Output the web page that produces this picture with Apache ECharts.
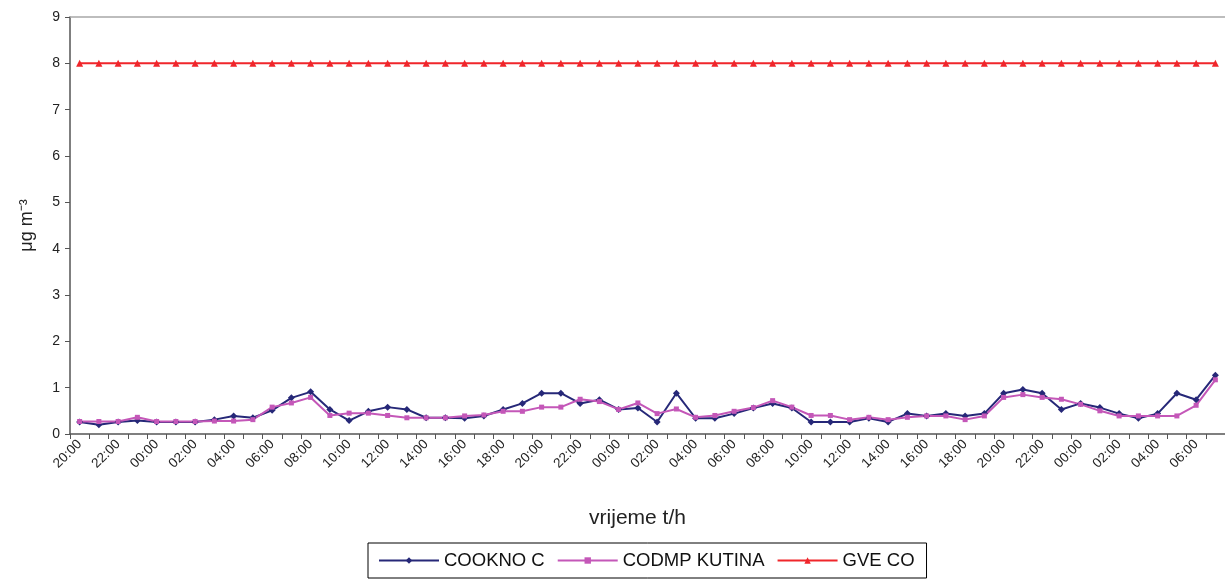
<!DOCTYPE html>
<html><head><meta charset="utf-8">
<script src="https://cdn.jsdelivr.net/npm/echarts@6/dist/echarts.min.js"></script>
<style>html,body{margin:0;padding:0;background:#fff}#c{width:1225px;height:579px}</style>
</head><body><div id="c"></div>
<script>
const hours = ["20:00","21:00","22:00","23:00","00:00","01:00","02:00","03:00","04:00","05:00","06:00","07:00","08:00","09:00","10:00","11:00","12:00","13:00","14:00","15:00","16:00","17:00","18:00","19:00","20:00","21:00","22:00","23:00","00:00","01:00","02:00","03:00","04:00","05:00","06:00","07:00","08:00","09:00","10:00","11:00","12:00","13:00","14:00","15:00","16:00","17:00","18:00","19:00","20:00","21:00","22:00","23:00","00:00","01:00","02:00","03:00","04:00","05:00","06:00","07:00"];
const cooknoC = [0.26,0.20,0.26,0.29,0.26,0.26,0.26,0.31,0.39,0.35,0.51,0.78,0.91,0.53,0.29,0.49,0.58,0.53,0.35,0.35,
0.34,0.39,0.53,0.66,0.88,0.88,0.66,0.74,0.53,0.56,0.26,0.88,0.34,0.34,0.44,0.56,0.66,0.56,0.26,0.26,
0.26,0.34,0.26,0.44,0.39,0.44,0.39,0.44,0.88,0.96,0.88,0.53,0.66,0.57,0.44,0.34,0.44,0.88,0.74,1.27];
const codmpKutina = [0.27,0.27,0.27,0.36,0.27,0.27,0.27,0.28,0.28,0.31,0.58,0.67,0.79,0.40,0.45,0.45,0.40,0.35,0.35,0.35,
0.39,0.41,0.49,0.49,0.58,0.58,0.75,0.70,0.53,0.67,0.44,0.54,0.36,0.40,0.49,0.57,0.72,0.58,0.40,0.40,
0.31,0.36,0.31,0.36,0.39,0.39,0.31,0.39,0.79,0.85,0.79,0.75,0.64,0.50,0.39,0.39,0.39,0.39,0.62,1.17];
const gveCO = hours.map(() => 8);
const yTicks = [0,1,2,3,4,5,6,7,8,9];

const font = '"Liberation Sans", Arial, sans-serif';
const chart = echarts.init(document.getElementById('c'), null, {renderer:'canvas'});
chart.setOption({
  animation:false,
  textStyle:{fontFamily:font},
  grid:{left:70, top:17, right:-7, bottom:145},
  legend:{
    left:368, top:543, itemWidth:60, itemHeight:8, itemGap:12,
    padding:[8,12,8,10],
    borderColor:'#000', borderWidth:1, borderRadius:0,
    textStyle:{fontSize:18.5, color:'#111', fontFamily:font},
    data:['COOKNO C','CODMP KUTINA','GVE CO']
  },
  xAxis:[{
    type:'category', data:hours, boundaryGap:true,
    name:'vrijeme t/h', nameLocation:'middle', nameGap:74,
    nameTextStyle:{fontSize:21, color:'#222', padding:[0,20,0,0]},
    axisLine:{lineStyle:{color:'#555', width:1.5}},
    axisTick:{show:true, interval:0, length:5, lineStyle:{color:'#555'}},
    axisLabel:{interval:1, rotate:45, fontSize:13.5, color:'#222', margin:8},
    splitLine:{show:false}
  },{
    type:'category', data:hours, position:'top', boundaryGap:true,
    axisLine:{lineStyle:{color:'#a8a8a8', width:1.5}},
    axisTick:{show:false}, axisLabel:{show:false}, splitLine:{show:false}
  }],
  yAxis:{
    type:'value', min:0, max:9, interval:1,
    name:'μg m⁻³', nameLocation:'middle', nameGap:34, nameRotate:90,
    nameTextStyle:{fontSize:18, color:'#222'},
    axisLine:{show:true, lineStyle:{color:'#555', width:1.5}},
    axisTick:{show:true, length:5, lineStyle:{color:'#555'}},
    axisLabel:{fontSize:14, color:'#222', margin:10},
    splitLine:{show:false}
  },
  series:[
    {name:'COOKNO C', type:'line', data:cooknoC, symbol:'diamond', symbolSize:7,
     color:'#262878', lineStyle:{width:2, color:'#262878'}, itemStyle:{color:'#262878'}},
    {name:'CODMP KUTINA', type:'line', data:codmpKutina, symbol:'rect', symbolSize:5,
     color:'#c457b8', lineStyle:{width:2, color:'#c457b8'}, itemStyle:{color:'#c457b8'}},
    {name:'GVE CO', type:'line', data:gveCO, symbol:'triangle', symbolSize:7,
     color:'#f0262b', lineStyle:{width:2, color:'#f0262b'}, itemStyle:{color:'#f0262b'}}
  ]
});
</script></body></html>
